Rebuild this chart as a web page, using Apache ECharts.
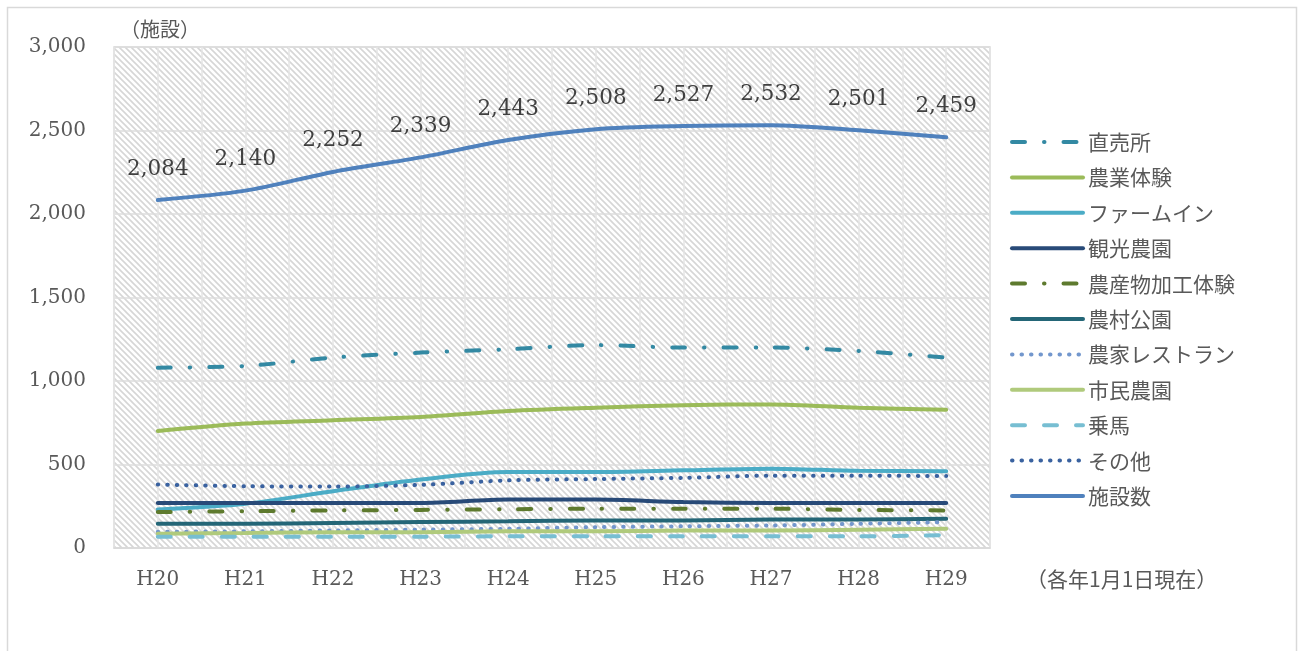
<!DOCTYPE html>
<html>
<head>
<meta charset="utf-8">
<script src="https://cdn.jsdelivr.net/npm/echarts@6/dist/echarts.min.js"></script>
<style>
  html, body { margin: 0; padding: 0; background: #fff; }
  #chart { width: 1303px; height: 651px; }
</style>
</head>
<body>
<div id="chart"></div>
<script>
// 年度
const years = ['H20', 'H21', 'H22', 'H23', 'H24', 'H25', 'H26', 'H27', 'H28', 'H29']
// 各項目の施設数
const chokubaijo = [1080, 1090, 1140, 1170, 1190, 1215, 1200, 1200, 1180, 1140]
const nogyoTaiken = [700, 745, 765, 785, 820, 840, 855, 860, 840, 828]
const farmInn = [230, 265, 340, 410, 455, 455, 465, 475, 462, 460]
const kankoNoen = [270, 270, 270, 270, 290, 290, 275, 270, 270, 270]
const kakoTaiken = [215, 220, 225, 228, 232, 235, 235, 235, 228, 225]
const nosonKoen = [145, 145, 150, 155, 160, 165, 165, 170, 170, 175]
const restaurant = [97, 100, 105, 110, 115, 125, 130, 135, 145, 155]
const shiminNoen = [85, 90, 95, 95, 100, 100, 105, 105, 110, 115]
const joba = [68, 68, 68, 68, 70, 70, 70, 70, 70, 78]
const sonota = [380, 370, 368, 378, 405, 413, 420, 433, 433, 431]
const shisetsuSu = [2084, 2140, 2252, 2339, 2443, 2508, 2527, 2532, 2501, 2459]
// 補助線用（カテゴリの半分刻み）
const halfTicks = years.flatMap(y => [y + 'a', y + 'b'])

// 斜線パターンの背景
function makeHatch () {
    const s = 6
    const c = document.createElement('canvas')
    c.width = s
    c.height = s
    const ctx = c.getContext('2d')
    ctx.fillStyle = '#ffffff'
    ctx.fillRect(0, 0, s, s)
    ctx.strokeStyle = '#d6d6d6'
    ctx.lineWidth = 1.6
    ctx.beginPath()
    ctx.moveTo(-1, -1); ctx.lineTo(s + 1, s + 1)
    ctx.moveTo(-1, s - 1); ctx.lineTo(1, s + 1)
    ctx.moveTo(s - 1, -1); ctx.lineTo(s + 1, 1)
    ctx.stroke()
    return c
}

const chartInstance = echarts.init(document.getElementById('chart'))
const jpFont = '"Noto Sans CJK JP", sans-serif'
const numFont = '"DejaVu Serif", "Liberation Serif", serif'

function lineSeries (name, data, color, dash, extra) {
    return Object.assign({
        name: name,
        type: 'line',
        data: data,
        smooth: 0.3,
        symbol: 'none',
        xAxisIndex: 0,
        lineStyle: {
            color: color,
            width: 4,
            type: dash || 'solid',
            cap: 'round'
        },
        itemStyle: { color: color }
    }, extra || {})
}

const dashDot = [13, 19, 0.5, 19]
const dots = [0.5, 9]
const dashes = [13, 19]

const option = {
    animation: false,
    backgroundColor: '#ffffff',
    graphic: [
        {
            type: 'rect',
            shape: { x: 7.5, y: 7.5, width: 1289, height: 660 },
            style: { fill: 'none', stroke: '#d9d9d9', lineWidth: 1.5 },
            silent: true
        },
        {
            type: 'text',
            left: 120,
            top: 19,
            style: { text: '（施設）', font: '20px ' + jpFont, fill: '#595959' }
        },
        {
            type: 'text',
            left: 1026,
            top: 569,
            style: { text: '（各年1月1日現在）', font: '21px ' + jpFont, fill: '#595959' }
        }
    ],
    grid: {
        left: 114,
        right: 313,
        top: 47,
        bottom: 103,
        show: true,
        backgroundColor: { image: makeHatch(), repeat: 'repeat' },
        borderColor: '#d9d9d9',
        borderWidth: 1.5
    },
    legend: {
        left: 1005,
        top: 125,
        orient: 'vertical',
        itemWidth: 71,
        itemHeight: 14,
        itemGap: 11.4,
        itemStyle: { opacity: 0 },
        lineStyle: { width: 4, cap: 'round' },
        textStyle: { fontSize: 21, color: '#595959', fontFamily: jpFont, lineHeight: 24 },
        data: ['直売所', '農業体験', 'ファームイン', '観光農園', '農産物加工体験', '農村公園',
            '農家レストラン', '市民農園', '乗馬', 'その他', '施設数']
    },
    xAxis: [
        {
            type: 'category',
            data: years,
            boundaryGap: true,
            axisLine: { lineStyle: { color: '#d9d9d9', width: 1.5 } },
            axisTick: { show: false },
            axisLabel: { fontSize: 20, color: '#595959', fontFamily: numFont, margin: 22 },
            splitLine: { show: false }
        },
        {
            type: 'category',
            data: halfTicks,
            boundaryGap: true,
            position: 'bottom',
            axisLine: { show: false },
            axisTick: { show: false },
            axisLabel: { show: false },
            splitLine: { show: true, interval: 0, lineStyle: { color: '#e4e4e4', width: 1.5 } }
        }
    ],
    yAxis: {
        type: 'value',
        min: 0,
        max: 3000,
        interval: 500,
        axisLine: { show: false },
        axisTick: { show: false },
        axisLabel: {
            fontSize: 20,
            color: '#595959',
            fontFamily: numFont,
            margin: 28,
            formatter: v => v.toLocaleString('en-US')
        },
        splitLine: { lineStyle: { color: '#dcdcdc', width: 1.5 } }
    },
    series: [
        lineSeries('直売所', chokubaijo, '#3389a3', dashDot),
        lineSeries('農業体験', nogyoTaiken, '#9bbb59'),
        lineSeries('ファームイン', farmInn, '#4bacc6'),
        lineSeries('観光農園', kankoNoen, '#284a78'),
        lineSeries('農産物加工体験', kakoTaiken, '#5e7a2e', dashDot),
        lineSeries('農村公園', nosonKoen, '#246677'),
        lineSeries('農家レストラン', restaurant, '#7397cd', dots),
        lineSeries('市民農園', shiminNoen, '#b0ca7c'),
        lineSeries('乗馬', joba, '#77bed2', dashes),
        lineSeries('その他', sonota, '#3a62a0', dots),
        lineSeries('施設数', shisetsuSu, '#4f81bd', 'solid', {
            symbol: 'circle',
            symbolSize: 2,
            showSymbol: true,
            itemStyle: { color: 'rgba(79,129,189,0)' },
            label: {
                show: true,
                position: 'top',
                distance: 19,
                fontSize: 21.5,
                color: '#404040',
                fontFamily: numFont,
                formatter: p => p.value.toLocaleString('en-US')
            }
        })
    ]
}
chartInstance.setOption(option)
</script>
</body>
</html>
